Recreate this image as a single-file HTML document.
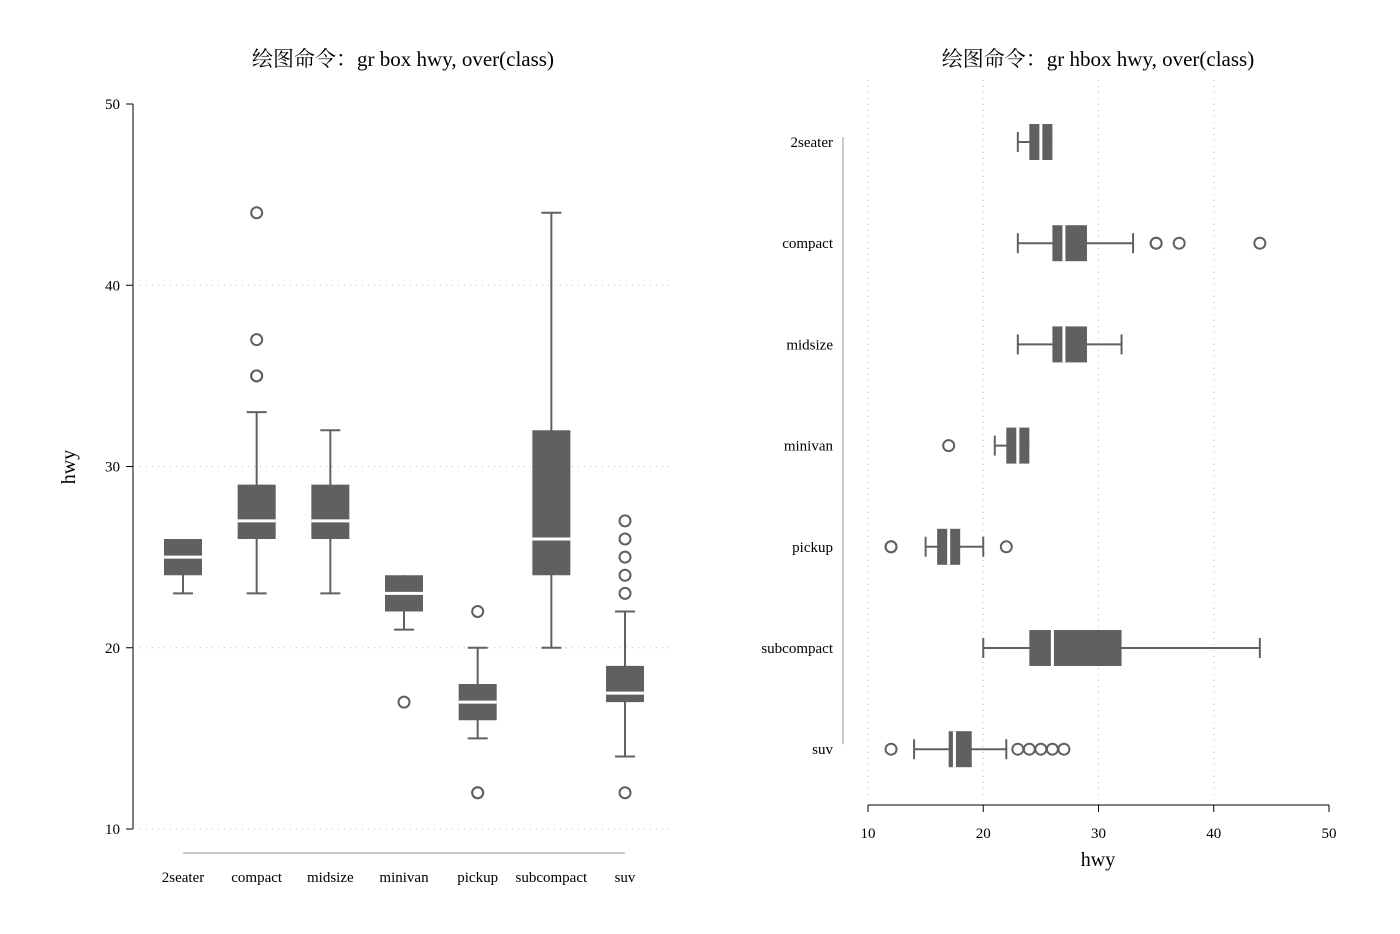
<!DOCTYPE html>
<html><head><meta charset="utf-8"><style>
body{margin:0;background:#fff;}
svg{display:block;font-family:"Liberation Serif","Noto Serif CJK SC",serif;}
</style></head><body>
<svg id="c" width="1400" height="934" viewBox="0 0 1400 934"></svg>
<script>
const categories=["2seater","compact","midsize","minivan","pickup","subcompact","suv"];
const lowWhisker=[23,23,23,21,15,20,14];
const q1=[24,26,26,22,16,24,17];
const median=[25,27,27,23,17,26,17.5];
const q3=[26,29,29,24,18,32,19];
const highWhisker=[26,33,32,24,20,44,22];
const outliers=[[],[35,35,37,44],[],[17],[12,12,22],[],[12,23,24,25,26,27]];
const ticks=[10,20,30,40,50];
const NS="http://www.w3.org/2000/svg";
const svg=document.getElementById('c');
const G="#606060";
function el(t,a,p){const e=document.createElementNS(NS,t);for(const k in a)e.setAttribute(k,a[k]);(p||svg).appendChild(e);return e;}
const yL=v=>829-(v-10)*(829-104)/40;
const xL=i=>183+i*73.67;
const xR=v=>868+(v-10)*(1329-868)/40;
const yR=i=>142+i*101.2;

let t=el('text',{x:403,y:66,'text-anchor':'middle','font-size':21});t.textContent="绘图命令：gr box hwy, over(class)";

t=el('text',{x:1098,y:66,'text-anchor':'middle','font-size':21});t.textContent="绘图命令：gr hbox hwy, over(class)";


const la=el('g',{});
el('line',{x1:133,y1:yL(10),x2:133,y2:yL(50),stroke:"#000"},la);
ticks.forEach(v=>{
 el('line',{x1:126,y1:yL(v),x2:133,y2:yL(v),stroke:"#000"},la);
 const tx=el('text',{x:120,y:yL(v)+5,'text-anchor':'end','font-size':15},la);tx.textContent=v;
 if(v<50){const g=el('line',{x1:140,y1:yL(v),x2:672,y2:yL(v),stroke:"#bbb",'stroke-dasharray':"1 5"});}
});
t=el('text',{x:0,y:0,'text-anchor':'middle','font-size':20,transform:`translate(75,467) rotate(-90)`});t.textContent="hwy";

el('line',{x1:xL(0),y1:853,x2:xL(6),y2:853,stroke:"#999"});
categories.forEach((c,i)=>{const tx=el('text',{x:xL(i),y:882,'text-anchor':'middle','font-size':15});tx.textContent=c;});

const ra=el('g',{});
el('line',{x1:xR(10),y1:805,x2:xR(50),y2:805,stroke:"#000"},ra);
ticks.forEach(v=>{
 el('line',{x1:xR(v),y1:805,x2:xR(v),y2:812,stroke:"#000"},ra);
 const tx=el('text',{x:xR(v),y:838,'text-anchor':'middle','font-size':15},ra);tx.textContent=v;
 if(v<50){const g=el('line',{x1:xR(v),y1:80,x2:xR(v),y2:800,stroke:"#bbb",'stroke-dasharray':"1 5"});}
});
t=el('text',{x:1098,y:866,'text-anchor':'middle','font-size':20});t.textContent="hwy";

el('line',{x1:843,y1:yR(0)-5,x2:843,y2:yR(6)-5,stroke:"#999"});
categories.forEach((c,i)=>{const tx=el('text',{x:833,y:yR(i)+5,'text-anchor':'end','font-size':15});tx.textContent=c;});

categories.forEach((c,i)=>{
 const g=el('g',{});
 
 
 const x=xL(i),w=38,cap=20;
 el('line',{x1:x,y1:yL(lowWhisker[i]),x2:x,y2:yL(highWhisker[i]),stroke:G,'stroke-width':2},g);
 if(lowWhisker[i]<q1[i])el('line',{x1:x-cap/2,y1:yL(lowWhisker[i]),x2:x+cap/2,y2:yL(lowWhisker[i]),stroke:G,'stroke-width':2},g);
 if(highWhisker[i]>q3[i])el('line',{x1:x-cap/2,y1:yL(highWhisker[i]),x2:x+cap/2,y2:yL(highWhisker[i]),stroke:G,'stroke-width':2},g);
 el('rect',{x:x-w/2,y:yL(q3[i]),width:w,height:yL(q1[i])-yL(q3[i]),fill:G},g);
 el('line',{x1:x-w/2,y1:yL(median[i]),x2:x+w/2,y2:yL(median[i]),stroke:"#fff",'stroke-width':3},g);
 outliers[i].forEach(v=>el('circle',{cx:x,cy:yL(v),r:5.5,fill:"none",stroke:G,'stroke-width':2},g));

 const h=el('g',{});
 
 
 const y=yR(i),hh=36;
 el('line',{x1:xR(lowWhisker[i]),y1:y,x2:xR(highWhisker[i]),y2:y,stroke:G,'stroke-width':2},h);
 if(lowWhisker[i]<q1[i])el('line',{x1:xR(lowWhisker[i]),y1:y-cap/2,x2:xR(lowWhisker[i]),y2:y+cap/2,stroke:G,'stroke-width':2},h);
 if(highWhisker[i]>q3[i])el('line',{x1:xR(highWhisker[i]),y1:y-cap/2,x2:xR(highWhisker[i]),y2:y+cap/2,stroke:G,'stroke-width':2},h);
 el('rect',{x:xR(q1[i]),y:y-hh/2,width:xR(q3[i])-xR(q1[i]),height:hh,fill:G},h);
 el('line',{x1:xR(median[i]),y1:y-hh/2,x2:xR(median[i]),y2:y+hh/2,stroke:"#fff",'stroke-width':3},h);
 outliers[i].forEach(v=>el('circle',{cx:xR(v),cy:y,r:5.5,fill:"none",stroke:G,'stroke-width':2},h));
});
</script>
</body></html>
